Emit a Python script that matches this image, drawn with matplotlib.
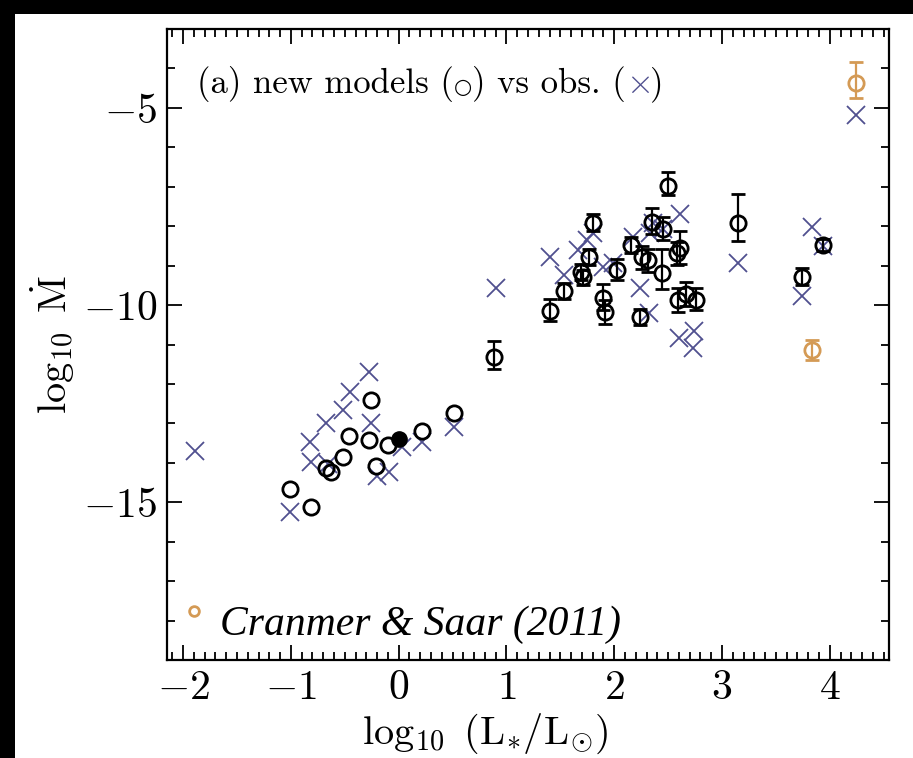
import matplotlib
matplotlib.use("Agg")
import matplotlib.pyplot as plt
from matplotlib.patches import Rectangle
from matplotlib.ticker import MultipleLocator
from matplotlib.transforms import offset_copy

plt.rcParams['mathtext.fontset'] = 'cm'
plt.rcParams['axes.formatter.use_mathtext'] = True
plt.rcParams['font.family'] = 'cmr10'

# new models for the low-luminosity stars (no error bars)
low_x = [-1.01, -0.81, -0.67, -0.63, -0.52, -0.46, -0.26, -0.28, -0.21, -0.10, 0.22, 0.51]
low_y = [-14.67, -15.13, -14.14, -14.24, -13.84, -13.31, -12.40, -13.43, -14.07, -13.56, -13.20, -12.73]

# new models for the giants, with asymmetric error bars
model_x = [0.88, 1.40, 1.53, 1.69, 1.71, 1.77, 1.80, 1.90, 1.91, 2.03, 2.16, 2.24, 2.26, 2.31,
           2.35, 2.45, 2.44, 2.50, 2.58, 2.61, 2.59, 2.67, 2.76, 3.15, 3.74, 3.94]
model_y = [-11.31, -10.15, -9.65, -9.17, -9.30, -8.79, -7.93, -9.82, -10.18, -9.12, -8.48, -10.30, -8.79, -8.87,
           -7.90, -8.06, -9.19, -6.97, -8.69, -8.56, -9.87, -9.72, -9.87, -7.93, -9.29, -8.48]
model_lo = [0.30, 0.25, 0.20, 0.20, 0.20, 0.20, 0.20, 0.30, 0.30, 0.25, 0.20, 0.20, 0.30, 0.30,
            0.30, 0.30, 0.40, 0.25, 0.30, 0.40, 0.30, 0.30, 0.25, 0.45, 0.20, 0.15]
model_hi = [0.40, 0.30, 0.20, 0.20, 0.20, 0.20, 0.25, 0.35, 0.30, 0.30, 0.20, 0.20, 0.30, 0.30,
            0.35, 0.30, 0.60, 0.35, 0.30, 0.45, 0.30, 0.30, 0.30, 0.75, 0.22, 0.15]

# the Sun
sun_x, sun_y = [0.0], [-13.4]

# outliers drawn in orange
odd_x = [4.24, 3.84]
odd_y = [-4.37, -11.14]
odd_lo = [0.38, 0.25]
odd_hi = [0.53, 0.25]
odd_low_x, odd_low_y = [-1.90], [-17.75]

# observed mass-loss rates (crosses)
obs_x = [-1.89, -1.01, -0.82, -0.81, -0.67, -0.66, -0.52, -0.45, -0.28, -0.26, -0.20, -0.09, 0.03,
         0.22, 0.51, 0.90, 1.40, 1.53, 1.66, 1.75, 1.80, 1.90, 1.99, 2.17, 2.24, 2.32, 2.33, 2.36,
         2.45, 2.61, 2.60, 2.74, 2.73, 3.15, 3.74, 3.84, 3.94, 4.24]
obs_y = [-13.69, -15.25, -13.46, -13.99, -13.00, -14.04, -12.65, -12.20, -11.69, -12.98, -14.34, -14.24, -13.60,
         -13.48, -13.10, -9.57, -8.79, -9.24, -8.61, -8.36, -8.18, -9.04, -8.94, -8.28, -9.57, -10.20, -8.18, -7.93,
         -8.06, -7.68, -10.83, -10.67, -11.09, -8.94, -9.77, -8.03, -8.50, -5.18]

blue = '#50508f'
orange = '#d49a55'

fig = plt.figure(figsize=(9.13, 7.58), dpi=100, facecolor='black')
fig.patches.append(Rectangle((15 / 913, 0), 1 - 15 / 913, 1 - 14 / 758,
                             transform=fig.transFigure, facecolor='white',
                             edgecolor='none', zorder=-10))
ax = fig.add_axes([167 / 913, 98 / 758, 722 / 913, 631 / 758])

circ = dict(fmt='o', mfc='none', ms=11, mew=2.0, elinewidth=1.6, capsize=5, capthick=1.6)

ax.plot(obs_x, obs_y, 'x', color=blue, ms=13, mew=1.3, zorder=2)
ax.plot(low_x, low_y, 'o', mfc='none', mec='black', ms=11, mew=2.0, zorder=3)
ax.errorbar(model_x, model_y, yerr=[model_lo, model_hi], mec='black', ecolor='black',
            zorder=3, **circ)
ax.plot(sun_x, sun_y, 'o', color='black', ms=11, zorder=4)
ax.errorbar(odd_x, odd_y, yerr=[odd_lo, odd_hi], mec=orange, ecolor=orange, zorder=3, **circ)
ax.plot(odd_low_x, odd_low_y, 'o', mfc='none', mec=orange, ms=7, mew=2.0, zorder=3)

ax.set_xlim(-2.15, 4.55)
ax.set_ylim(-19, -3)
ax.xaxis.set_major_locator(MultipleLocator(1))
ax.xaxis.set_minor_locator(MultipleLocator(0.1))
ax.yaxis.set_major_locator(MultipleLocator(5))
ax.yaxis.set_minor_locator(MultipleLocator(1))
ax.tick_params(which='both', direction='in', top=True, right=True, width=1.3)
ax.tick_params(which='major', length=11, labelsize=30, pad=7)
ax.tick_params(which='minor', length=5.5)
for s in ax.spines.values():
    s.set_linewidth(1.6)

ax.set_xlabel(r'$\log_{10}\ (\mathrm{L}_{*}/\mathrm{L}_{\odot})$', fontsize=29)
ax.xaxis.set_label_coords(0.44, -0.082)
ax.set_ylabel(r'$\log_{10}\ \dot{\mathrm{M}}$', fontsize=29)
ax.yaxis.set_label_coords(-0.125, 0.5)

# header line, assembled piece by piece so the cross can be coloured
fig.canvas.draw()
renderer = fig.canvas.get_renderer()
pieces = [('(a) new models (', 'black', 'cmr10', 25),
          ('\u25cb', 'black', 'DejaVu Sans', 15),
          (') vs obs. (', 'black', 'cmr10', 25),
          (r'$\times$', blue, 'cmr10', 25),
          (')', 'black', 'cmr10', 25)]
shift = 0
for s, c, fam, size in pieces:
    tr = offset_copy(ax.transAxes, fig=fig, x=shift, y=0, units='dots')
    t = ax.text(0.042, 0.898, s, transform=tr, color=c, fontfamily=fam,
                fontsize=size, va='baseline', ha='left')
    shift += t.get_window_extent(renderer).width

ax.text(0.073, 0.04, 'Cranmer & Saar (2011)', transform=ax.transAxes,
        fontfamily='Liberation Serif', style='italic', fontsize=30, va='baseline')

fig.savefig('out.png', dpi=100, facecolor=fig.get_facecolor())
